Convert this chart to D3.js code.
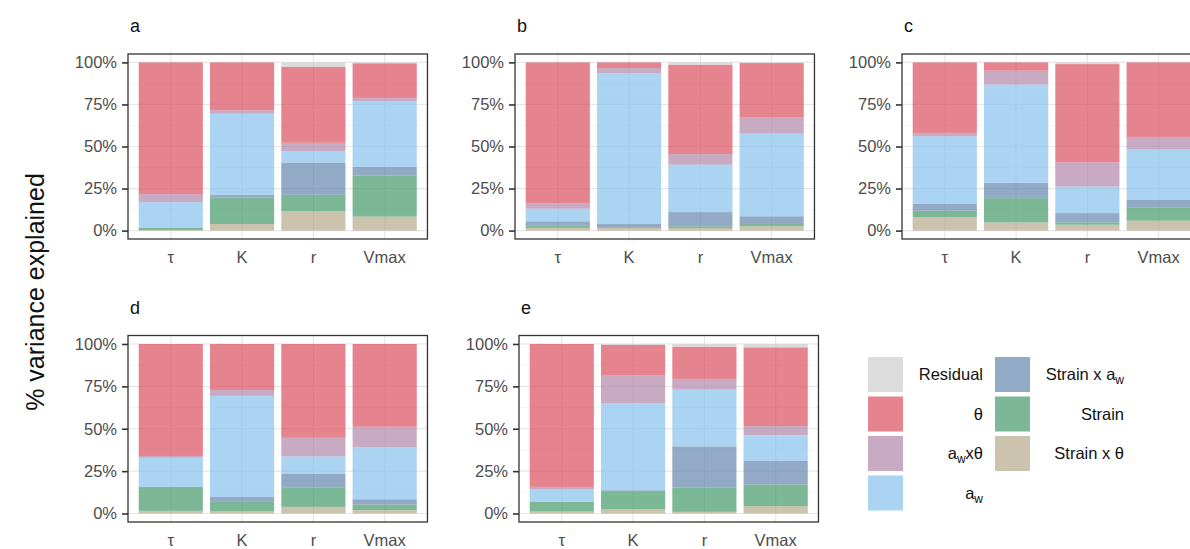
<!DOCTYPE html>
<html><head><meta charset="utf-8">
<script src="https://cdn.jsdelivr.net/npm/d3@7"></script>
<style>body{margin:0;background:#fff;} svg{display:block;font-family:"Liberation Sans",Arial,sans-serif;}</style>
</head><body>
<svg id="chart" width="1190" height="549"></svg>
<script>
// categories (x axis)
const params = ["τ", "K", "r", "Vmax"];
// stack order, bottom to top
const components = ["Strain x θ", "Strain", "Strain x aw", "aw", "awxθ", "θ", "Residual"];
const yTicks = [0, 0.25, 0.5, 0.75, 1];
const panelLabels = ["a", "b", "c", "d", "e"];

// percent variance explained per parameter, per component (order as components)
const panelA = [
  [0.3, 1.3, 0.2, 15.1, 4.8, 78.3, 0],
  [3.9, 15.8, 1.6, 48.2, 2.0, 28.5, 0],
  [11.4, 9.9, 19.1, 6.8, 5.0, 45.2, 2.6],
  [8.3, 24.4, 5.3, 39.0, 1.9, 20.6, 0.5]
];
const panelB = [
  [1.6, 1.5, 2.4, 7.5, 3.3, 83.7, 0],
  [1.5, 0.5, 1.9, 89.6, 3.2, 3.3, 0],
  [1.5, 1.0, 8.5, 28.2, 6.3, 53.1, 1.4],
  [2.6, 1.3, 4.6, 49.2, 9.8, 32.1, 0.4]
];
const panelC = [
  [7.9, 3.9, 4.1, 40.2, 2.0, 41.9, 0],
  [4.9, 14.4, 9.2, 58.3, 8.3, 4.9, 0],
  [3.5, 1.4, 5.5, 15.8, 14.4, 58.4, 1.0],
  [5.9, 7.9, 4.5, 29.9, 7.5, 44.3, 0]
];
const panelD = [
  [1.6, 14.1, 0, 17.2, 1.0, 66.1, 0],
  [1.4, 5.5, 2.9, 59.6, 3.5, 27.1, 0],
  [3.9, 11.4, 8.2, 10.2, 11.0, 55.3, 0],
  [2.0, 3.3, 3.1, 30.8, 12.0, 48.8, 0]
];
const panelE = [
  [1.2, 5.7, 0, 7.4, 1.4, 84.3, 0],
  [2.5, 10.2, 1.0, 51.4, 16.3, 18.0, 0.6],
  [1.0, 14.3, 24.3, 33.5, 6.3, 19.0, 1.6],
  [4.3, 12.8, 13.9, 15.1, 5.5, 46.4, 2.0]
];
const colors = ["#b5a98a", "#449a6a", "#6586ae", "#88c2ec", "#b086a8", "#da4f5f", "#cdcdcd"];
// legend order (column-major)
const legendOrder = ["Residual", "θ", "awxθ", "aw", "Strain x aw", "Strain", "Strain x θ"];

const svg = d3.select("#chart");
const color = d3.scaleOrdinal().domain(components).range(colors);

const panels = [
  {label: "a", data: panelA, x: 128, top: 54, bottom: 239},
  {label: "b", data: panelB, x: 515, top: 54, bottom: 239},
  {label: "c", data: panelC, x: 902, top: 54, bottom: 239},
  {label: "d", data: panelD, x: 128, top: 335.5, bottom: 522},
  {label: "e", data: panelE, x: 519, top: 335.5, bottom: 522}
];
const step = 71.3;
const pw = step * 4.2;

panels.forEach(p => {
  const g = svg.append("g");
  const h = p.bottom - p.top;
  const pad = h * 0.05 / 1.1;
  const y = d3.scaleLinear().domain([0, 1]).range([p.bottom - pad, p.top + pad]);
  const x = d3.scaleBand().domain(params).range([p.x, p.x + pw]).paddingInner(0.1).paddingOuter(0.15);

  g.append("defs").append("clipPath").attr("id", "clip" + p.label)
    .append("rect").attr("x", p.x).attr("y", p.top).attr("width", pw).attr("height", h);
  const inner = g.append("g").attr("clip-path", `url(#clip${p.label})`);
  // minor grid
  const minor = [0.125, 0.375, 0.625, 0.875];
  inner.selectAll(".minor").data(minor).join("line")
    .attr("x1", p.x).attr("x2", p.x + pw).attr("y1", d => y(d)).attr("y2", d => y(d))
    .attr("stroke", "#f2f2f2").attr("stroke-width", 0.8);
  inner.selectAll(".major").data(yTicks).join("line")
    .attr("x1", p.x).attr("x2", p.x + pw).attr("y1", d => y(d)).attr("y2", d => y(d))
    .attr("stroke", "#e6e6e6").attr("stroke-width", 1.2);
  inner.selectAll(".vgrid").data(params).join("line")
    .attr("x1", d => x(d) + x.bandwidth() / 2).attr("x2", d => x(d) + x.bandwidth() / 2)
    .attr("y1", p.top).attr("y2", p.bottom)
    .attr("stroke", "#e6e6e6").attr("stroke-width", 1.2);

  // stacked bars
  const rows = params.map((prm, i) => {
    const o = {param: prm};
    components.forEach((c, j) => o[c] = p.data[i][j] / 100);
    return o;
  });
  const stack = d3.stack().keys(components)(rows);
  inner.selectAll(".layer").data(stack).join("g")
    .attr("fill", d => color(d.key)).attr("fill-opacity", 0.7)
    .selectAll("rect").data(d => d).join("rect")
    .attr("x", d => x(d.data.param)).attr("width", x.bandwidth())
    .attr("y", d => y(d[1])).attr("height", d => Math.max(0, y(d[0]) - y(d[1])));

  // border
  g.append("rect").attr("x", p.x).attr("y", p.top).attr("width", pw).attr("height", h)
    .attr("fill", "none").attr("stroke", "#333").attr("stroke-width", 1.3);

  // y axis
  const ya = g.append("g").attr("transform", `translate(${p.x},0)`)
    .call(d3.axisLeft(y).tickValues(yTicks).tickFormat(d3.format(".0%")).tickSize(6).tickPadding(5));
  ya.select(".domain").remove();
  ya.selectAll(".tick line").attr("stroke", "#333").attr("stroke-width", 1.6);
  ya.selectAll(".tick text").attr("fill", "#4d4d4d").style("font-size", "16.5px")
    .style("font-family", "'Liberation Sans', Arial, sans-serif");

  // x labels
  const xa = g.append("g").attr("transform", `translate(0,${p.bottom})`)
    .call(d3.axisBottom(x).tickSize(0).tickPadding(12));
  xa.select(".domain").remove();
  xa.selectAll(".tick text").attr("fill", "#4d4d4d").style("font-size", "16.5px")
    .style("font-family", "'Liberation Sans', Arial, sans-serif");

  g.append("text").attr("x", p.x + 2).attr("y", p.top - 22).text(p.label)
    .attr("fill", "#111").style("font-size", "18px");
});

// y title
svg.append("text").attr("transform", "translate(44,292) rotate(-90)")
  .attr("text-anchor", "middle").attr("fill", "#111").style("font-size", "25px")
  .text("% variance explained");

// legend
function labelText(sel, name) {
  const parts = {
    "Residual": [["Residual", false]],
    "θ": [["θ", false]],
    "awxθ": [["a", false], ["w", true], ["xθ", false]],
    "aw": [["a", false], ["w", true]],
    "Strain x aw": [["Strain x a", false], ["w", true]],
    "Strain": [["Strain", false]],
    "Strain x θ": [["Strain x θ", false]]
  }[name];
  let sub = false;
  parts.forEach(([t, s]) => {
    const ts = sel.append("tspan").text(t);
    if (s) { ts.attr("dy", 4).style("font-size", "12px"); sub = true; }
    else if (sub) { ts.attr("dy", -4); sub = false; }
  });
}
const legCols = [{keyX: 868, labelX: 983}, {keyX: 995, labelX: 1124}];
const rowY = [357, 396.5, 436, 475.5];
legendOrder.forEach((name, i) => {
  const col = legCols[Math.floor(i / 4)];
  const ry = rowY[i % 4];
  svg.append("rect").attr("x", col.keyX).attr("y", ry).attr("width", 35).attr("height", 35)
    .attr("fill", color(name)).attr("fill-opacity", 0.7);
  const t = svg.append("text").attr("x", col.labelX).attr("y", ry + 23)
    .attr("text-anchor", "end").attr("fill", "#111").style("font-size", "16.5px");
  labelText(t, name);
});
</script>
</body></html>
